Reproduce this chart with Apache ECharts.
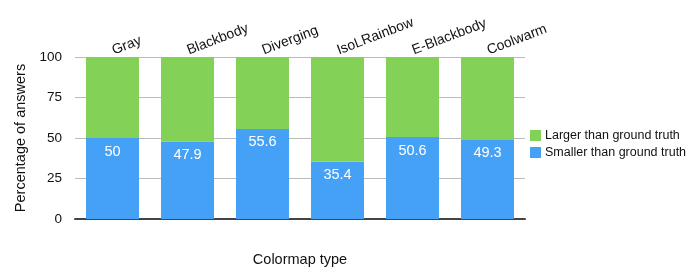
<!DOCTYPE html>
<html><head><meta charset="utf-8">
<script src="https://cdn.jsdelivr.net/npm/echarts@6/dist/echarts.min.js"></script>
<style>html,body{margin:0;padding:0;background:#fff}#c{width:693px;height:278px}</style>
</head><body><div id="c"></div>
<script>
const categories = ['Gray','Blackbody','Diverging','IsoLRainbow','E-Blackbody','Coolwarm'];
const smaller = [50, 47.9, 55.6, 35.4, 50.6, 49.3];
const larger = [50, 52.1, 44.4, 64.6, 49.4, 50.7];
const yTicks = [0, 25, 50, 75, 100];
const font = 'Liberation Sans, Arial, Helvetica, sans-serif';
const chart = echarts.init(document.getElementById('c'), null, {renderer:'canvas'});
chart.setOption({
  animation: false,
  textStyle: {fontFamily: font},
  grid: {left: 75, right: 168, top: 57, bottom: 59},
  legend: {
    data: ['Larger than ground truth','Smaller than ground truth'],
    orient: 'vertical', left: 525, top: 124, itemWidth: 11, itemHeight: 11, itemGap: 4,
    icon: 'rect',
    textStyle: {fontFamily: font, fontSize: 12.5, color: '#111', padding: [0,0,0,-1]}
  },
  xAxis: [{
    type: 'category', data: categories, position: 'top',
    axisLine: {show: true, lineStyle: {color: '#bbb', width: 1}},
    axisTick: {show: false},
    axisLabel: {rotate: 21, fontSize: 14, color: '#111', fontFamily: font, margin: 6, interval: 0}
  },{
    type: 'category', data: categories, position: 'bottom',
    name: 'Colormap type', nameLocation: 'middle', nameGap: 33,
    nameTextStyle: {fontSize: 14.5, color: '#111', fontFamily: font},
    axisLine: {show: true, lineStyle: {color: '#444', width: 2}},
    axisTick: {show: false}, axisLabel: {show: false}
  }],
  yAxis: {
    type: 'value', min: yTicks[0], max: yTicks[yTicks.length-1], interval: 25,
    name: 'Percentage of answers', nameLocation: 'middle', nameGap: 37,
    nameTextStyle: {fontSize: 14.5, color: '#111', fontFamily: font},
    axisLine: {show: false}, axisTick: {show: false},
    axisLabel: {fontSize: 13.5, color: '#111', margin: 13, fontFamily: font},
    splitLine: {lineStyle: {color: '#bbb', width: 1}}
  },
  series: [{
    name: 'Smaller than ground truth', type: 'bar', stack: 's', data: smaller,
    xAxisIndex: 0, barWidth: 53,
    itemStyle: {color: '#45a1f6'},
    label: {show: true, position: 'insideTop', distance: 6, color: '#fff', fontSize: 14.5, fontFamily: font}
  },{
    name: 'Larger than ground truth', type: 'bar', stack: 's', data: larger,
    xAxisIndex: 0, barWidth: 53,
    itemStyle: {color: '#83d257'}
  }]
});
</script></body></html>
